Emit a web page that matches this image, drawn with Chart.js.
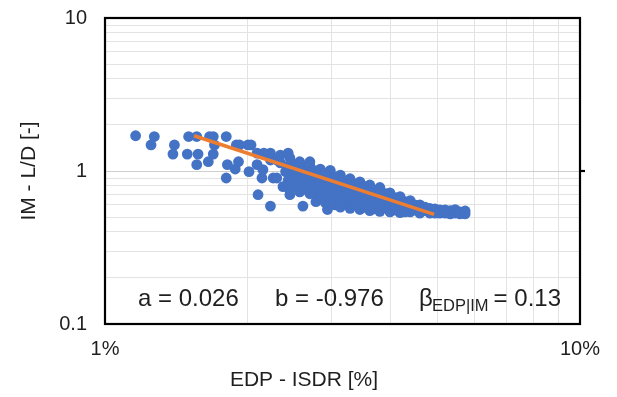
<!DOCTYPE html>
<html>
<head>
<meta charset="utf-8">
<script src="https://cdn.jsdelivr.net/npm/chart.js@4.4.0/dist/chart.umd.min.js"></script>
<style>
  html, body { margin: 0; padding: 0; background: #fff; }
</style>
</head>
<body>
<canvas id="chart" width="617" height="397"></canvas>
<script>
const FONT = '"Liberation Sans", Arial, sans-serif';
const TEXT = "#1f1f1f";

// grid lines / tick positions on the log axes
const xTicks = [1, 2, 3, 4, 5, 6, 7, 8, 9, 10];
const xLabeled = [1, 10];
const yTicks = [0.1, 0.2, 0.3, 0.4, 0.5, 0.6, 0.7, 0.8, 0.9, 1, 2, 3, 4, 5, 6, 7, 8, 9, 10];
const yLabeled = [0.1, 1, 10];

// [ISDR %, L/D]
const scatterPts = [
  [1.16, 1.70], [1.27, 1.68], [1.25, 1.48], [1.40, 1.48], [1.39, 1.29], [1.49, 1.29],
  [1.50, 1.68], [1.56, 1.68], [1.57, 1.29], [1.56, 1.10], [1.66, 1.68], [1.69, 1.68],
  [1.80, 1.68], [1.70, 1.48], [1.69, 1.29], [1.65, 1.15], [1.81, 1.10], [1.88, 1.03],
  [1.91, 1.15], [1.80, 0.90], [1.89, 1.48], [1.92, 1.48], [2.00, 1.48], [2.03, 1.48],
  [2.01, 0.99], [2.09, 1.10], [2.14, 0.90], [2.15, 1.02], [2.26, 0.90], [2.30, 0.90],
  [2.10, 0.70], [2.23, 0.59], [2.45, 0.70], [2.47, 0.79], [2.61, 0.59], [2.78, 0.63],
  [2.94, 0.56], [2.09, 1.31], [2.23, 1.31], [2.34, 1.27], [2.43, 1.31], [2.23, 1.18],
  [2.34, 1.13], [2.40, 0.99], [2.51, 0.915], [2.43, 0.87], [2.30, 1.18], [2.37, 0.79],
  [2.57, 1.15], [2.70, 1.15], [2.16, 1.31],
  // dense band
  [2.45, 1.22], [2.45, 1.10], [2.45, 0.99], [2.45, 0.89], [2.45, 0.80], [2.45, 0.75],
  [2.51, 1.10], [2.51, 0.99], [2.51, 0.89], [2.51, 0.80],
  [2.57, 1.11], [2.57, 1.00], [2.57, 0.90], [2.57, 0.81], [2.57, 0.73],
  [2.64, 1.05], [2.64, 0.94], [2.64, 0.85], [2.64, 0.76],
  [2.70, 1.08], [2.70, 0.97], [2.70, 0.87], [2.70, 0.79], [2.70, 0.71],
  [2.77, 1.00], [2.77, 0.90], [2.77, 0.81], [2.77, 0.73],
  [2.84, 1.03], [2.84, 0.93], [2.84, 0.84], [2.84, 0.75], [2.84, 0.68],
  [2.91, 0.96], [2.91, 0.86], [2.91, 0.78], [2.91, 0.70], [2.91, 0.62],
  [2.98, 1.01], [2.98, 0.89], [2.98, 0.80], [2.98, 0.72], [2.98, 0.65],
  [3.05, 0.915], [3.05, 0.82], [3.05, 0.74], [3.05, 0.67], [3.05, 0.60],
  [3.13, 0.94], [3.13, 0.84], [3.13, 0.75], [3.13, 0.68], [3.13, 0.61], [3.13, 0.58],
  [3.20, 0.86], [3.20, 0.78], [3.20, 0.70], [3.20, 0.63],
  [3.28, 0.89], [3.28, 0.80], [3.28, 0.72], [3.28, 0.65], [3.28, 0.59], [3.28, 0.57],
  [3.36, 0.82], [3.36, 0.74], [3.36, 0.67], [3.36, 0.60],
  [3.44, 0.85], [3.44, 0.76], [3.44, 0.69], [3.44, 0.62], [3.44, 0.58], [3.44, 0.56],
  [3.53, 0.79], [3.53, 0.71], [3.53, 0.64], [3.53, 0.58],
  [3.61, 0.81], [3.61, 0.73], [3.61, 0.66], [3.61, 0.60], [3.61, 0.55],
  [3.70, 0.75], [3.70, 0.68], [3.70, 0.61], [3.70, 0.565],
  [3.79, 0.78], [3.79, 0.70], [3.79, 0.63], [3.79, 0.565], [3.79, 0.545],
  [3.89, 0.71], [3.89, 0.64], [3.89, 0.58],
  [3.98, 0.72], [3.98, 0.65], [3.98, 0.59], [3.98, 0.54],
  [4.08, 0.67], [4.08, 0.61], [4.08, 0.556],
  [4.18, 0.68], [4.18, 0.61], [4.18, 0.55], [4.18, 0.535],
  [4.28, 0.63], [4.28, 0.57], [4.28, 0.54],
  [4.39, 0.64], [4.39, 0.58], [4.39, 0.54],
  [4.49, 0.60], [4.49, 0.556],
  [4.60, 0.60], [4.60, 0.565], [4.60, 0.53],
  [4.72, 0.58], [4.72, 0.55],
  [4.83, 0.57], [4.83, 0.53],
  [4.95, 0.565], [4.95, 0.53],
  [5.07, 0.556], [5.07, 0.53],
  [5.20, 0.556], [5.20, 0.53],
  [5.33, 0.55], [5.33, 0.524],
  [5.46, 0.56], [5.46, 0.53],
  [5.59, 0.54], [5.59, 0.524],
  [5.73, 0.548], [5.73, 0.524],
];

// fitted power law, end points
const trendPts = [[1.54, 1.70], [4.93, 0.52]];

const toXY = (p) => ({ x: p[0], y: p[1] });

const frame = {
  id: "frame",
  afterDraw(chart) {
    const { ctx, chartArea: a } = chart;
    ctx.save();
    ctx.strokeStyle = "#000";
    ctx.lineWidth = 2.2;
    ctx.strokeRect(a.left, a.top, a.right - a.left, a.bottom - a.top);
    const y1 = chart.scales.y.getPixelForValue(1);
    ctx.beginPath();
    ctx.moveTo(a.right, y1);
    ctx.lineTo(a.right + 5, y1);
    ctx.stroke();

    ctx.fillStyle = TEXT;
    ctx.textBaseline = "middle";
    ctx.textAlign = "center";
    ctx.font = `21px ${FONT}`;
    ctx.fillText("EDP - ISDR [%]", 304, 380);

    // regression parameters
    ctx.textBaseline = "alphabetic";
    ctx.textAlign = "left";
    ctx.font = `24px ${FONT}`;
    ctx.fillText("a = 0.026", 138, 306);
    ctx.fillText("b = -0.976", 275, 306);
    ctx.fillText("β", 419, 306);
    ctx.font = `16.5px ${FONT}`;
    ctx.fillText("EDP|IM", 432, 311);
    ctx.font = `24px ${FONT}`;
    ctx.textAlign = "right";
    ctx.fillText("= 0.13", 561, 306);
    ctx.restore();
  },
};

new Chart(document.getElementById("chart"), {
  type: "scatter",
  data: {
    datasets: [
      {
        data: trendPts.map(toXY),
        showLine: true,
        borderColor: "#ED7D31",
        borderWidth: 3.5,
        pointRadius: 0,
        order: 0,
      },
      {
        data: scatterPts.map(toXY),
        backgroundColor: "#4472C4",
        borderWidth: 0,
        pointRadius: 5.4,
        order: 1,
      },
    ],
  },
  plugins: [frame],
  options: {
    responsive: false,
    animation: false,
    layout: { padding: { top: 18, right: 37, left: 0, bottom: 0 } },
    plugins: { legend: { display: false }, tooltip: { enabled: false } },
    scales: {
      x: {
        type: "logarithmic",
        min: 1,
        max: 10,
        afterBuildTicks: (s) => { s.ticks = xTicks.map((v) => ({ value: v })); },
        afterFit: (s) => { s.height = 73; },
        ticks: {
          autoSkip: false,
          maxRotation: 0,
          padding: 13,
          color: TEXT,
          font: { family: FONT, size: 20 },
          callback: (v) => (xLabeled.includes(v) ? v + "%" : ""),
        },
        grid: { color: "#e3e3e3", drawTicks: false },
        border: { display: false },
      },
      y: {
        type: "logarithmic",
        min: 0.1,
        max: 10,
        afterBuildTicks: (s) => { s.ticks = yTicks.map((v) => ({ value: v })); },
        afterFit: (s) => {
          s.width = 105;
          s.paddingTop = 0;
          s.paddingBottom = 0;
        },
        ticks: {
          autoSkip: false,
          padding: 18,
          color: TEXT,
          font: { family: FONT, size: 20 },
          callback: (v) => (yLabeled.includes(v) ? String(v) : ""),
        },
        grid: {
          color: (c) => (c.tick && c.tick.value === 1 ? "#cfcfcf" : "#e3e3e3"),
          drawTicks: false,
        },
        border: { display: false },
        title: {
          display: true,
          text: "IM - L/D [-]",
          color: TEXT,
          font: { family: FONT, size: 21 },
          padding: { top: 17, bottom: 0 },
        },
      },
    },
  },
});
</script>
</body>
</html>
